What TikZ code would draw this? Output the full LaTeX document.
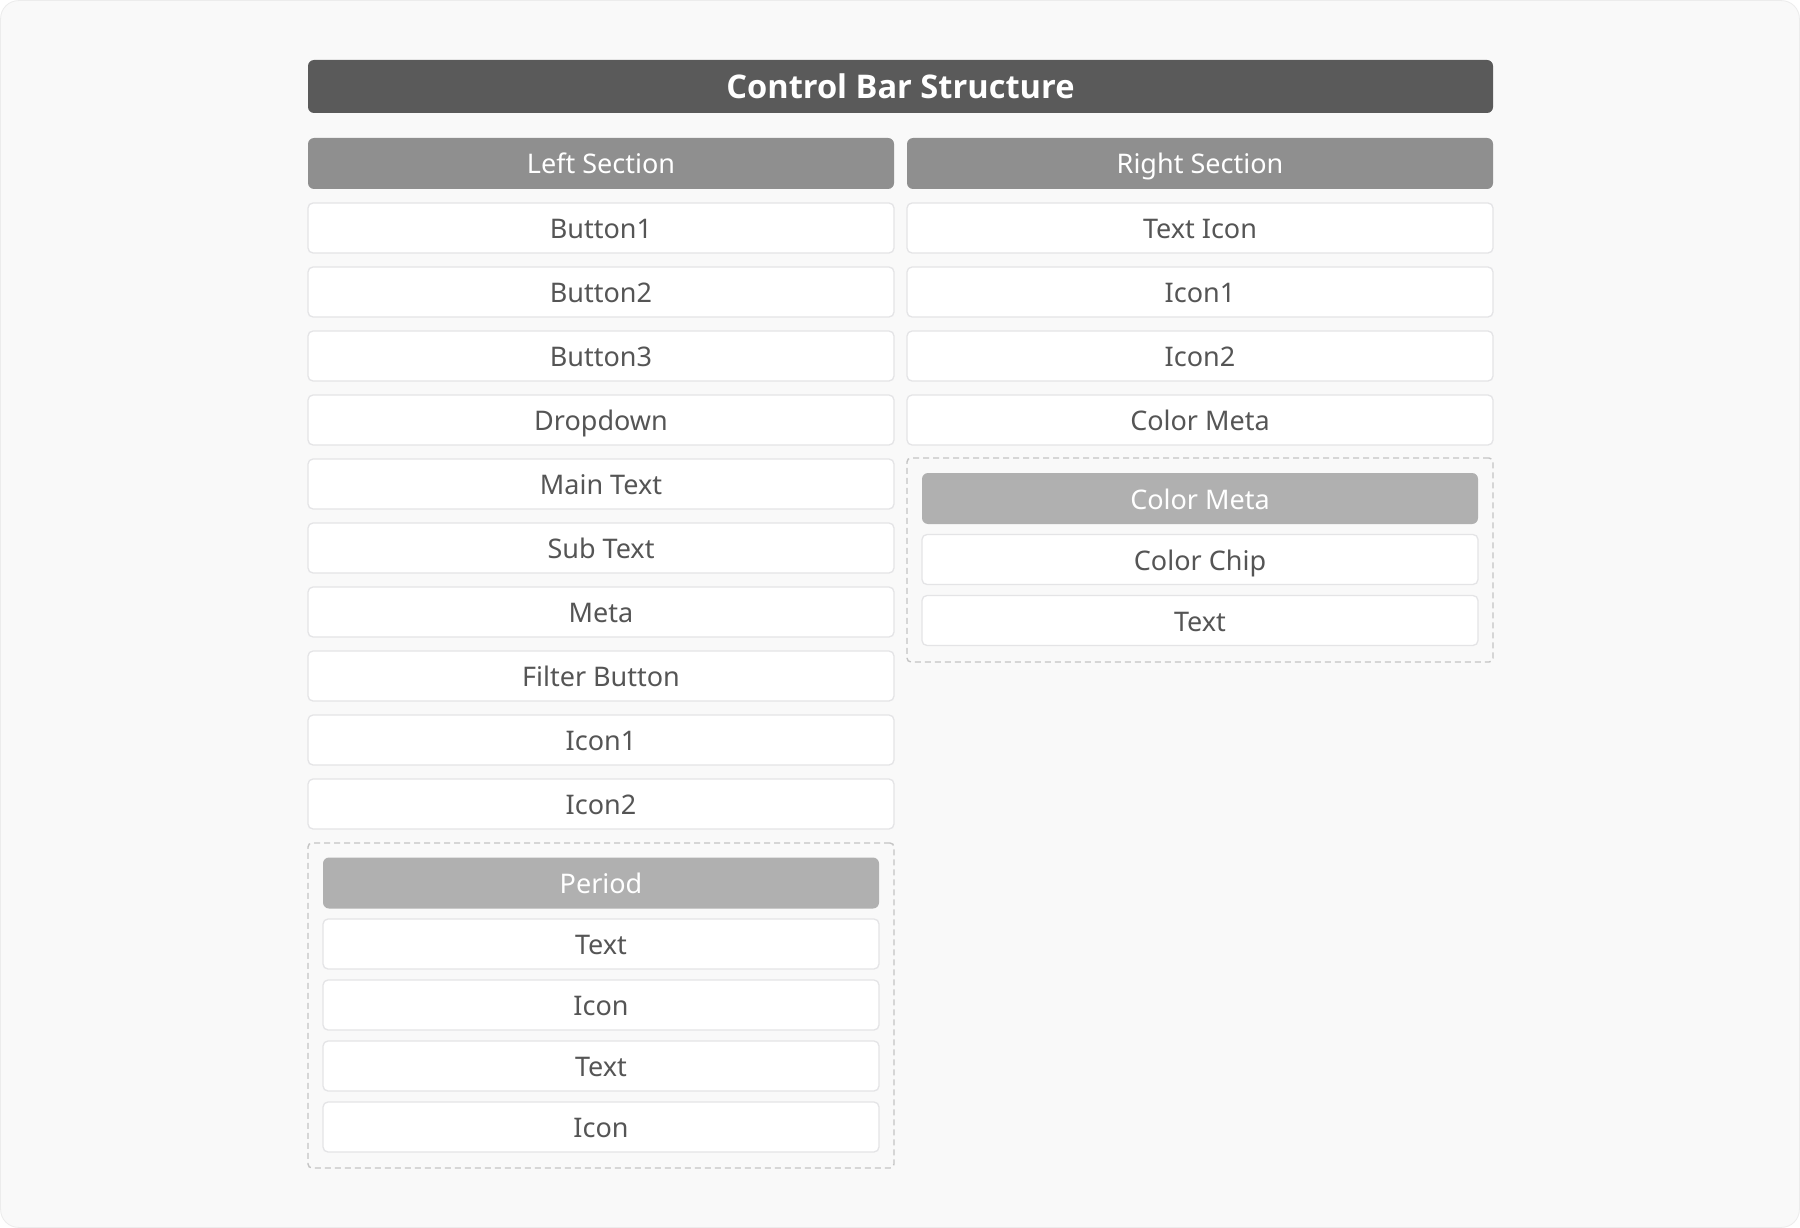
\documentclass[tikz,border=0pt]{standalone}
\usepackage{fontspec}
\setmainfont{Noto Sans}
\newfontfamily\titlefont{Open Sans}
\definecolor{bgc}{HTML}{F9F9F9}
\definecolor{titlec}{HTML}{5A5A5A}
\definecolor{secc}{HTML}{8F8F8F}
\definecolor{subc}{HTML}{B0B0B0}
\definecolor{txtc}{HTML}{555555}
\definecolor{brdc}{HTML}{E4E4E6}
\definecolor{outc}{HTML}{ECECEC}
\definecolor{dashc}{HTML}{C4C4C4}
\tikzset{
  basebox/.style={inner sep=0pt, text height=21pt, text depth=0pt, font=\fontsize{27}{32}\selectfont},
  titlebox/.style={fill=titlec, text=white, rounded corners=6pt, minimum width=1185pt, minimum height=53pt, inner sep=0pt, text height=25pt, text depth=0pt, font=\titlefont\fontsize{32.6}{38}\selectfont\bfseries},
  secbox/.style={basebox, fill=secc, text=white, rounded corners=6pt, minimum width=586pt, minimum height=51pt},
  subhead/.style={basebox, fill=subc, text=white, rounded corners=6pt, minimum width=556pt, minimum height=51pt},
  itembox/.style={basebox, fill=white, draw=brdc, line width=1.3pt, text=txtc, rounded corners=5pt, minimum width=586pt, minimum height=50pt},
  subitem/.style={itembox, minimum width=556pt},
  groupbox/.style={draw=dashc, line width=1.4pt, dash pattern=on 6pt off 4pt, rounded corners=4pt, minimum width=586pt, inner sep=0pt},
}
\begin{document}
\begin{tikzpicture}[x=1pt,y=-1pt]
\fill[white] (0,0) rectangle (1800,1228);
\useasboundingbox (0,0) rectangle (1800,1228);
\filldraw[fill=bgc, draw=outc, line width=0.8pt, rounded corners=18pt] (0.6,0.6) rectangle (1799.4,1227.4);
\node[titlebox] (title) at (900.5,86.5) {Control Bar Structure};
\node[secbox] (left) at (601,163.5) {Left Section};
\node[secbox] (right) at (1200,163.5) {Right Section};
% left items
\node[itembox] (l1) at (601,228) {Button1};
\node[itembox] (l2) at (601,292) {Button2};
\node[itembox] (l3) at (601,356) {Button3};
\node[itembox] (l4) at (601,420) {Dropdown};
\node[itembox] (l5) at (601,484) {Main Text};
\node[itembox] (l6) at (601,548) {Sub Text};
\node[itembox] (l7) at (601,612) {Meta};
\node[itembox] (l8) at (601,676) {Filter Button};
\node[itembox] (l9) at (601,740) {Icon1};
\node[itembox] (l10) at (601,804) {Icon2};
% period group
\node[groupbox, minimum height=325pt] (pgroup) at (601,1005.5) {};
\node[subhead] (period) at (601,883) {Period};
\node[subitem] (p1) at (601,944) {Text};
\node[subitem] (p2) at (601,1005) {Icon};
\node[subitem] (p3) at (601,1066) {Text};
\node[subitem] (p4) at (601,1127) {Icon};
% right items
\node[itembox] (r1) at (1200,228) {Text Icon};
\node[itembox] (r2) at (1200,292) {Icon1};
\node[itembox] (r3) at (1200,356) {Icon2};
\node[itembox] (r4) at (1200,420) {Color Meta};
% color meta group
\node[groupbox, minimum height=204pt] (cgroup) at (1200,560) {};
\node[subhead] (cmeta) at (1200,498.5) {Color Meta};
\node[subitem] (c1) at (1200,559.5) {Color Chip};
\node[subitem] (c2) at (1200,620.5) {Text};
\end{tikzpicture}
\end{document}
